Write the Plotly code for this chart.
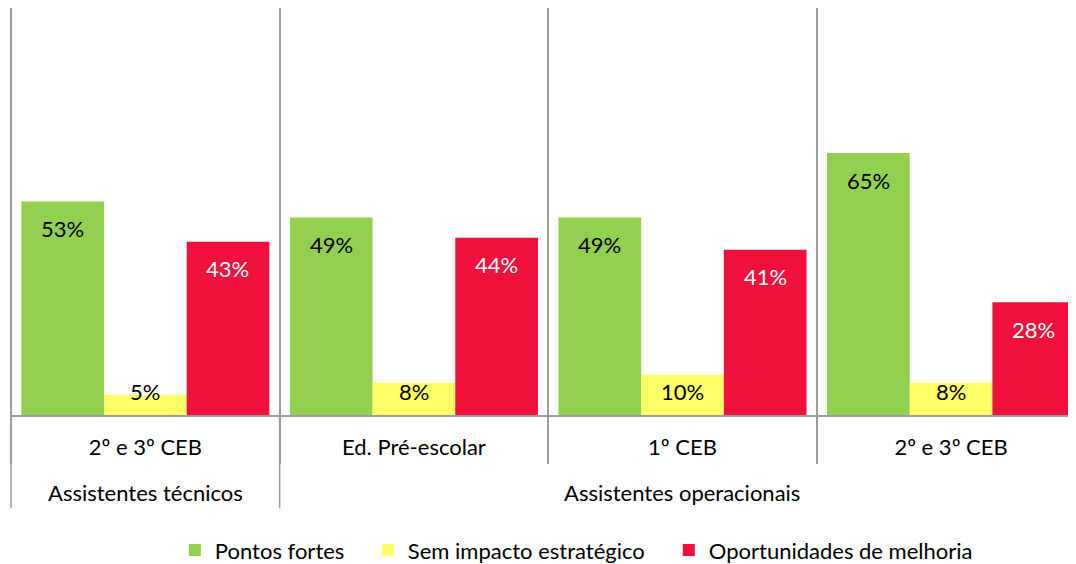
import plotly.graph_objects as go

groups = ["Assistentes técnicos", "Assistentes operacionais"]
group_members = [[0], [1, 2, 3]]
levels = ["2º e 3º CEB", "Ed. Pré-escolar", "1º CEB", "2º e 3º CEB"]
series_names = ["Pontos fortes", "Sem impacto estratégico", "Oportunidades de melhoria"]
pontos_fortes = [53, 49, 49, 65]
sem_impacto = [5, 8, 10, 8]
oportunidades = [43, 44, 41, 28]

colors = ["#92D050", "#FFFF66", "#F0103C"]
label_colors = ["black", "black", "white"]
FONT = "Lato"
FS = 22
GRAY = "#9C9C9C"
legend_ids = ["legend", "legend2", "legend3"]
legend_x = [0.1535, 0.3332, 0.6134]

xpos = list(range(len(levels)))
fig = go.Figure()
all_vals = [pontos_fortes, sem_impacto, oportunidades]
for name, vals, col, lid in zip(series_names, all_vals, colors, legend_ids):
    fig.add_trace(go.Bar(x=xpos, y=vals, name=name, legend=lid,
                         marker=dict(color=col, line=dict(width=0))))

# value labels (inside end, clamped to base for short bars)
shifts = [-82.6, 0, 82.6]
for si, vals in enumerate(all_vals):
    for i, v in zip(xpos, vals):
        short = si == 1
        fig.add_annotation(x=i, y=0 if short else v, xref="x", yref="y",
                           text=f"{v}%", showarrow=False,
                           xshift=shifts[si], yshift=24 if short else -27,
                           font=dict(family=FONT, size=FS, color=label_colors[si]))

# outer group labels and dividers
for g, members in zip(groups, group_members):
    fig.add_annotation(x=sum(members) / len(members), y=-0.191, xref="x", yref="paper",
                       text=g, showarrow=False, yanchor="middle",
                       font=dict(family=FONT, size=FS, color="black"))
    fig.add_shape(type="line", xref="x", yref="paper",
                  x0=members[0] - 0.5, x1=members[0] - 0.5, y0=0, y1=-0.229,
                  line=dict(color=GRAY, width=1.5))

legend_style = dict(orientation="h", xanchor="left", y=-0.332, yanchor="middle",
                    font=dict(family=FONT, size=FS, color="black"),
                    itemwidth=30, bgcolor="rgba(0,0,0,0)")

fig.update_layout(
    width=1076, height=556,
    margin=dict(l=2, r=0, t=0, b=149, autoexpand=False),
    paper_bgcolor="white", plot_bgcolor="white",
    barmode="group", bargap=0.0764, bargroupgap=0,
    font=dict(family=FONT, size=FS, color="black"),
    showlegend=True,
    legend=dict(x=legend_x[0], **legend_style),
    legend2=dict(x=legend_x[1], **legend_style),
    legend3=dict(x=legend_x[2], **legend_style),
    xaxis=dict(range=[-0.504, 3.495], automargin=False,
               tickmode="array", tickvals=xpos, ticktext=levels,
               showgrid=False, zeroline=False, ticks="",
               ticklabelstandoff=12,
               showline=True, linecolor=GRAY, linewidth=1.5,
               minor=dict(tick0=-0.5, dtick=1, showgrid=True, gridcolor=GRAY, gridwidth=1.5,
                          ticks="outside", ticklen=47, tickcolor=GRAY, tickwidth=1.5),
               tickfont=dict(family=FONT, size=FS, color="black")),
    yaxis=dict(range=[0, 101], showgrid=False, zeroline=False, automargin=False,
               showticklabels=False, ticks="", showline=False),
)

fig.write_html("out.html")
